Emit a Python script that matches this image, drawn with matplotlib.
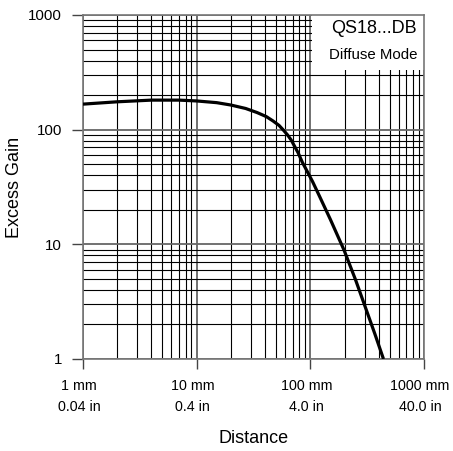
import numpy as np
import matplotlib
matplotlib.use("Agg")
import matplotlib.pyplot as plt
import matplotlib.transforms as mtransforms
from matplotlib.ticker import LogLocator, NullFormatter

plt.rcParams['font.family'] = ['Liberation Sans', 'DejaVu Sans']

# excess gain curve
distance_mm = [1, 2, 4, 7, 10, 15, 20, 27, 34, 41, 47, 53, 58, 63, 68, 73, 78, 85,
               93, 105, 121, 150, 198, 250, 302, 370, 440]
excess_gain = [167, 175, 181, 181, 178, 172, 164, 153, 141, 130, 119, 109, 99, 90,
               81, 71, 63, 52, 44, 35, 26, 16.5, 8.9, 4.9, 2.9, 1.65, 1.0]

x_ticks = [1, 10, 100, 1000]
x_ticklabels = ["1 mm\n0.04 in", "10 mm\n0.4 in", "100 mm\n4.0 in", "1000 mm\n40.0 in"]
y_ticks = [1, 10, 100, 1000]
y_ticklabels = ["1", "10", "100", "1000"]

fig = plt.figure(figsize=(4.53, 4.51), dpi=100)
ax = fig.add_axes([83 / 453, 92 / 451, 341 / 453, 344 / 451])

ax.set_xscale('log')
ax.set_yscale('log')
ax.set_xlim(1, 1000)
ax.set_ylim(1, 1000)

ax.xaxis.set_minor_locator(LogLocator(base=10, subs=np.arange(2, 10)))
ax.yaxis.set_minor_locator(LogLocator(base=10, subs=np.arange(2, 10)))
ax.xaxis.set_minor_formatter(NullFormatter())
ax.yaxis.set_minor_formatter(NullFormatter())

ax.set_xticks(x_ticks)
ax.set_xticklabels([""] * len(x_ticks))
ax.set_yticks(y_ticks)
ax.set_yticklabels(y_ticklabels, fontsize=10.8)

# x labels drawn as texts: in the reference they sit a little left of the ticks
shift = mtransforms.ScaledTranslation(-4 / 100, -20 / 100, fig.dpi_scale_trans)
xtrans = mtransforms.blended_transform_factory(ax.transData, ax.transAxes) + shift
for xv, lbl in zip(x_ticks, x_ticklabels):
    ax.text(xv, 0, lbl, transform=xtrans, ha='center', va='top', fontsize=10.3,
            linespacing=1.65, clip_on=False)

ax.grid(which='minor', color='black', linewidth=0.8)
ax.grid(which='major', color='#666666', linewidth=1.3)
ax.set_axisbelow(True)

ax.tick_params(axis='x', which='major', direction='out', length=7, width=1.0,
               color='#444444', pad=6)
ax.tick_params(axis='y', which='major', direction='out', length=8, width=1.0,
               color='#444444', pad=7)
ax.tick_params(which='minor', length=0)
for sp in ax.spines.values():
    sp.set_color('#777777')
    sp.set_linewidth(1.2)

ax.plot(distance_mm, excess_gain, color='black', linewidth=2.3, zorder=3,
        solid_capstyle='butt', solid_joinstyle='round')

# white label box in the upper right corner
ax.add_patch(plt.Rectangle((0.672, 0.84), 0.328, 0.16, transform=ax.transAxes,
                           facecolor='white', edgecolor='none', zorder=2))
ax.text(0.98, 0.985, "QS18...DB", transform=ax.transAxes, ha='right', va='top',
        fontsize=13, zorder=4)
ax.text(0.98, 0.905, "Diffuse Mode", transform=ax.transAxes, ha='right', va='top',
        fontsize=10.8, zorder=4)

ax.set_xlabel("Distance", fontsize=13, labelpad=0)
ax.xaxis.set_label_coords(0.5, -0.205)
ax.set_ylabel("Excess Gain", fontsize=13, labelpad=4)

fig.savefig("out.png", dpi=100)
